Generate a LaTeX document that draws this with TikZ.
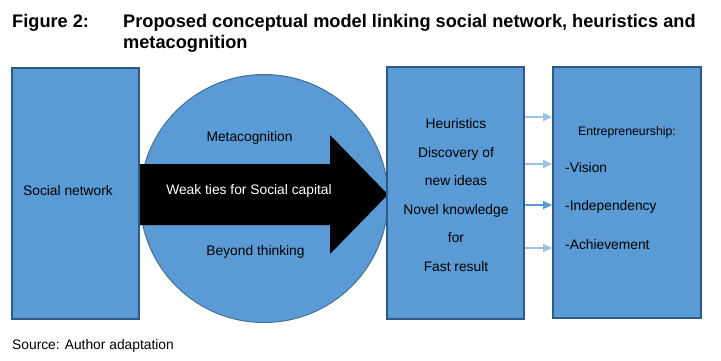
\documentclass[tikz,border=0pt]{standalone}
\usepackage{fontspec}
\setmainfont{Liberation Sans}
\usetikzlibrary{positioning,arrows.meta}
\definecolor{boxfill}{HTML}{5B9BD5}
\definecolor{boxline}{HTML}{2E5A87}
\definecolor{circline}{HTML}{41719C}
\definecolor{linklight}{HTML}{9DC3E6}
\newcommand{\lblsize}{\fontsize{13.8}{16}\selectfont}
\newcommand{\titlesize}{\fontsize{18.2}{21}\selectfont\bfseries}

\begin{document}
\begin{tikzpicture}[x=1pt,y=-1pt,
  box/.style={draw=boxline,fill=boxfill,line width=1.6pt,inner sep=0pt},
  lbl/.style={font=\lblsize,inner sep=0pt},
  ttl/.style={anchor=base west,font=\titlesize,inner sep=0pt},
  link/.style={-{Triangle[length=9pt,width=8pt]}}]
\useasboundingbox (0,0) rectangle (721,360);
% title
\node[ttl] (fig) at (12,27) {Figure 2:};
\node[ttl] (title1) at (123,27)
  {Proposed conceptual model linking social network, heuristics and};
\node[ttl] (title2) at (123,48) {metacognition};
% circle and broad arrow
\node[circle,draw=circline,fill=boxfill,line width=1pt,minimum size=248pt,inner sep=0pt] (meta) at (264,198.5) {};
\fill (139,164) -- (330,164) -- (330,135) -- (388,194.5) -- (330,254) -- (330,225) -- (139,225) -- cycle;
\node[lbl,text=white] (weak) at (249,191) {Weak ties for Social capital};
\node[lbl] (metalbl) at (249.5,138) {Metacognition};
\node[lbl] (beyond) at (255.5,252) {Beyond thinking};
% boxes
\node[box,minimum width=127pt,minimum height=251pt] (social) at (75.5,193.5) {};
\node[lbl] at (68,191) {Social network};
\node[box,minimum width=137pt,minimum height=252pt] (heur) at (455.5,193) {};
\node[lbl,align=center,font=\fontsize{13.8}{28.6}\selectfont] (heurtxt) at (456,195)
  {Heuristics\\Discovery of\\new ideas\\Novel knowledge\\for\\Fast result};
\node[box,minimum width=148pt,minimum height=251pt] (entre) at (627,192.5) {};
\node[lbl,font=\fontsize{12.3}{14}\selectfont] (entretitle) at (627,132) {Entrepreneurship:};
\node[lbl,anchor=west] (vision) at (565,168) {-Vision};
\node[lbl,anchor=west] (indep) at (565,207) {-Independency};
\node[lbl,anchor=west] (achieve) at (565,245) {-Achievement};
% small arrows
\foreach \yy/\cc/\ww in {117/linklight/2pt,164/linklight/2pt,205/boxfill/1.2pt,248/linklight/1.4pt}
  {\draw[link,draw=\cc,fill=boxfill,line width=\ww] (heur.east |- 0,\yy) -- (entre.west |- 0,\yy);}
% source
\node[lbl,anchor=base west] (source) at (12,349) {Source: Author adaptation};
\end{tikzpicture}
\end{document}
